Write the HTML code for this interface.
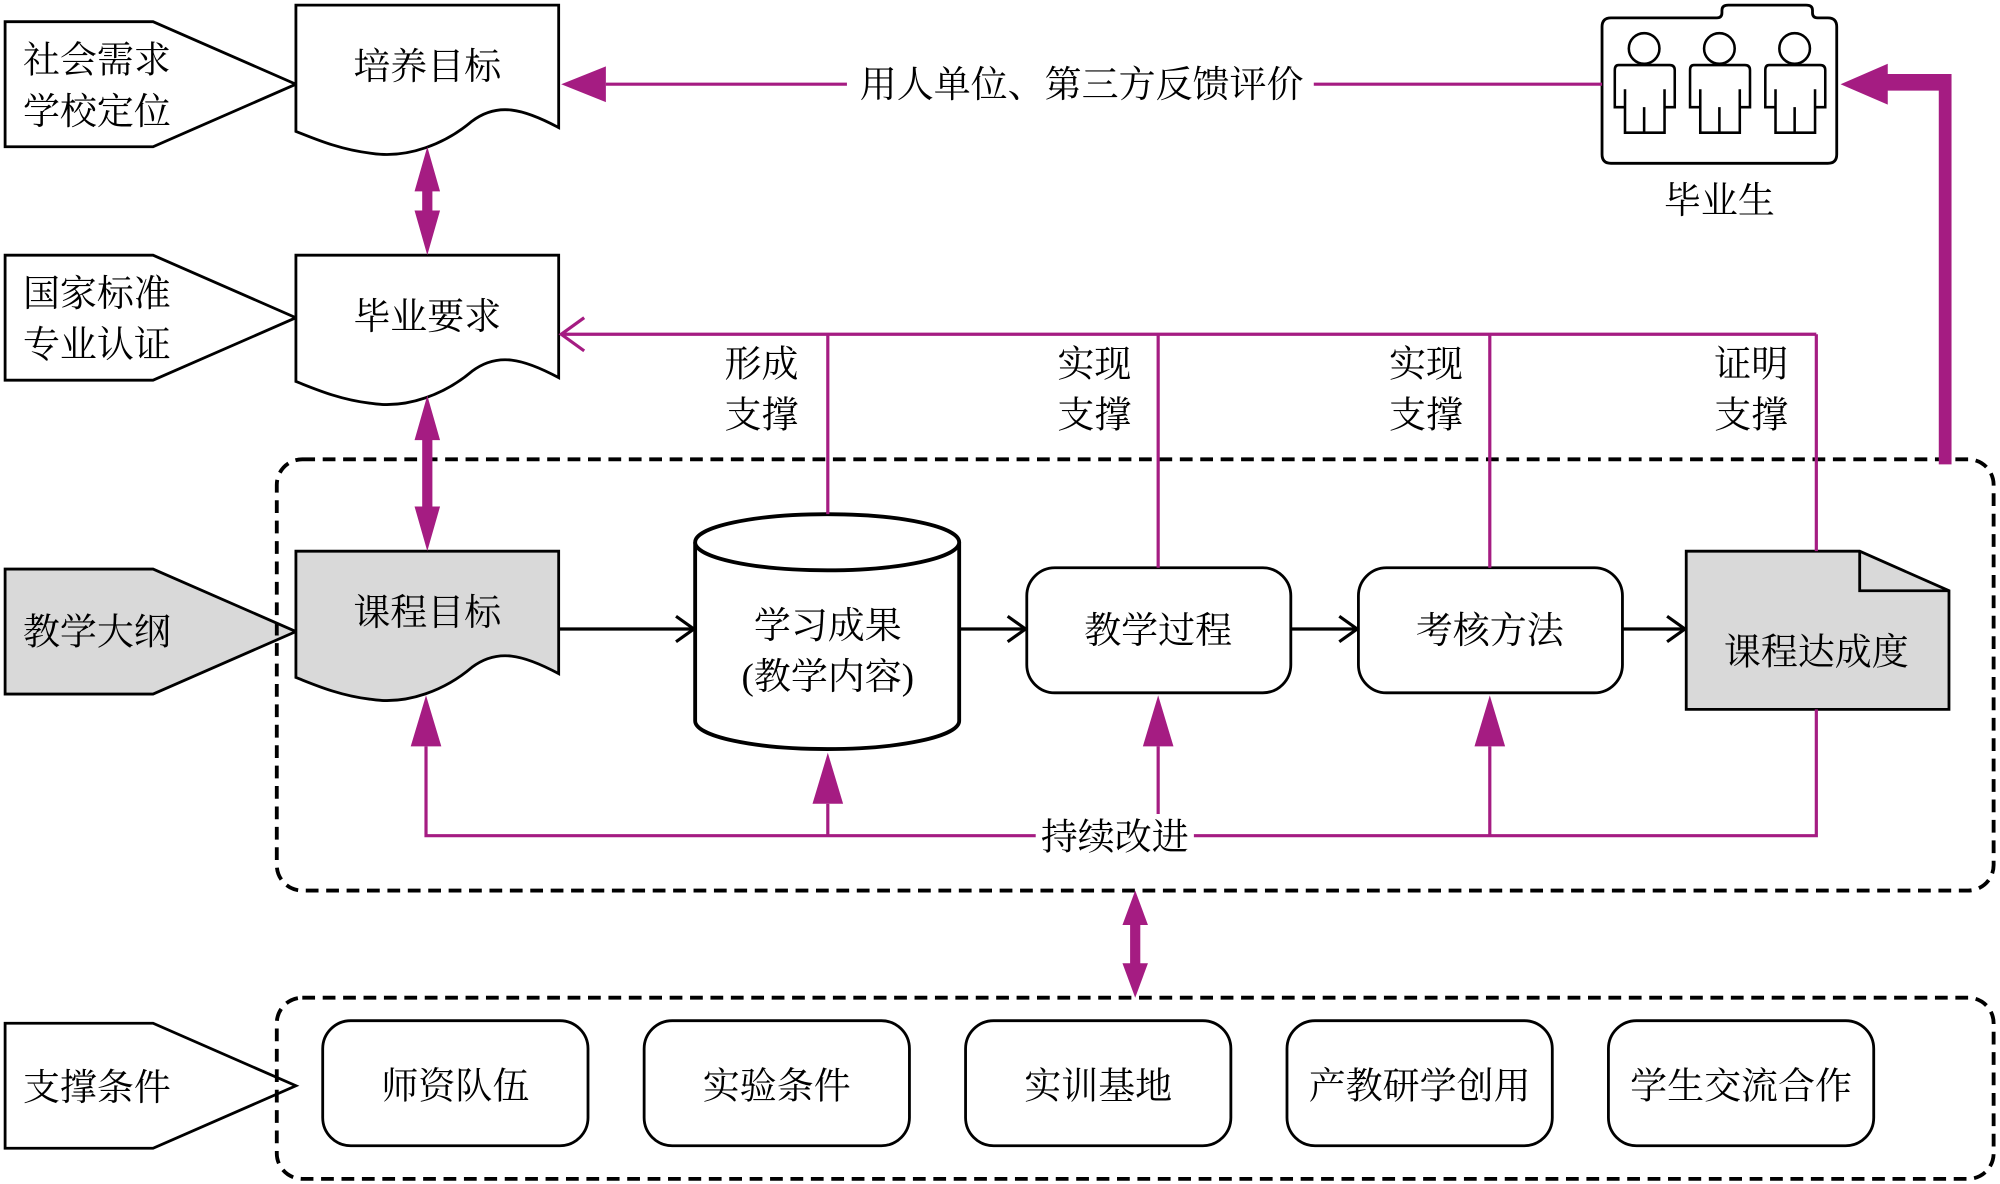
<!DOCTYPE html>
<html><head><meta charset="utf-8"><style>
html,body{margin:0;padding:0;background:#fff;}
svg{display:block;}
text{font-family:"Liberation Serif","Noto Serif CJK SC",serif;font-size:29px;fill:#000;}
</style></head><body>
<svg width="2000" height="1184" viewBox="0 0 1568 928" preserveAspectRatio="none" xmlns="http://www.w3.org/2000/svg">
<defs>
<marker id="open" markerWidth="20" markerHeight="24" refX="16" refY="12" orient="auto" markerUnits="userSpaceOnUse"><path d="M2,2 L16,12 L2,22" fill="none" stroke="#000" stroke-width="2.5"/></marker>
</defs>
<g stroke="#000" stroke-width="2.2" fill="#fff">
<path d="M4,17 H120 L232,66 L120,115 H4 Z"/>
<path d="M4,200 H120 L232,249 L120,298 H4 Z"/>
<path d="M4,446 H120 L232,495 L120,544 H4 Z" fill="#d9d9d9"/>
<path d="M4,802 H120 L232,851 L120,900 H4 Z"/>
<path d="M232,4 H438 V100 C410,85 390,80 370,95 C350,112 320,125 290,120 C265,117 245,108 232,103 Z"/>
<path d="M232,200 H438 V296 C410,281 390,276 370,291 C350,308 320,321 290,316 C265,313 245,304 232,299 Z"/>
<path d="M232,432 H438 V528 C410,513 390,508 370,523 C350,540 320,553 290,548 C265,545 245,536 232,531 Z" fill="#d9d9d9"/>
<path d="M545,425 V565 A103,22 0 0 0 752,565 V425" stroke-width="3"/>
<ellipse cx="648.5" cy="425" rx="103.5" ry="22" stroke-width="3"/>
<rect x="805" y="445" width="207" height="98" rx="22"/>
<rect x="1065" y="445" width="207" height="98" rx="22"/>
<path d="M1322,432 H1458 L1528,463 V556 H1322 Z" fill="#d9d9d9"/>
<path d="M1458,432 V463 H1528" fill="none"/>
<rect x="253" y="800" width="208" height="98" rx="22"/>
<rect x="505" y="800" width="208" height="98" rx="22"/>
<rect x="757" y="800" width="208" height="98" rx="22"/>
<rect x="1009" y="800" width="208" height="98" rx="22"/>
<rect x="1261" y="800" width="208" height="98" rx="22"/>
<rect x="217" y="360" width="1346" height="338" rx="20" fill="none" stroke-width="3" stroke-dasharray="10,6"/>
<rect x="217" y="782" width="1346" height="142" rx="20" fill="none" stroke-width="3" stroke-dasharray="10,6"/>
<path d="M1263,14 H1346 Q1350,14 1350,10 V8 Q1350,4 1355,4 H1416 Q1421,4 1421,8 V10 Q1421,14 1425,14 H1433 Q1440,14 1440,21 V121 Q1440,128 1433,128 H1263 Q1256,128 1256,121 V21 Q1256,14 1263,14 Z"/>
</g>
<g stroke="#000" stroke-width="2" fill="#fff">
<g id="p"><circle cx="1289" cy="38" r="12"/><path d="M1269,51 H1309 Q1313,51 1313,55 V84 H1305 V70 M1305,84 V104 H1274 V84 V70 M1274,84 H1266 V55 Q1266,51 1269,51 M1289,84 V104"/></g>
<use href="#p" x="59"/><use href="#p" x="118"/>
</g>
<g stroke="#000" stroke-width="2.5" fill="none" marker-end="url(#open)">
<line x1="438" y1="493" x2="544" y2="493"/>
<line x1="752" y1="493" x2="804" y2="493"/>
<line x1="1012" y1="493" x2="1064" y2="493"/>
<line x1="1272" y1="493" x2="1321" y2="493"/>
</g>
<g stroke="#a51c82" stroke-width="2.5" fill="none">
<line x1="475" y1="66" x2="1256" y2="66"/>
<line x1="440" y1="262" x2="1424" y2="262"/>
<path d="M458,249 L440,262 L458,275"/>
<line x1="649" y1="262" x2="649" y2="403"/>
<line x1="908" y1="262" x2="908" y2="445"/>
<line x1="1168" y1="262" x2="1168" y2="445"/>
<line x1="1424" y1="262" x2="1424" y2="432"/>
<path d="M334,585 V655 H1424 V556"/>
<line x1="649" y1="630" x2="649" y2="655"/>
<line x1="908" y1="585" x2="908" y2="655"/>
<line x1="1168" y1="585" x2="1168" y2="655"/>
</g>
<g fill="#a51c82">
<path d="M440,66 L475,52 V80 Z"/>
<path d="M334,545 L322,585 H346 Z"/>
<path d="M649,590 L637,630 H661 Z"/>
<path d="M908,545 L896,585 H920 Z"/>
<path d="M1168,545 L1156,585 H1180 Z"/>
<path d="M335,115 L325,150 H331 V165 H325 L335,200 L345,165 H339 V150 H345 Z"/>
<path d="M335,310 L325,345 H331 V397 H325 L335,432 L345,397 H339 V345 H345 Z"/>
<path d="M890,698 L880,725 H886 V755 H880 L890,782 L900,755 H894 V725 H900 Z"/>
<path d="M1520,364 V71 H1480 V82 L1443,66 L1480,50 V58 H1530 V364 Z"/>
</g>
<rect x="664" y="48" width="366" height="36" fill="#fff"/>
<rect x="812" y="638" width="124" height="36" fill="#fff"/>
<text x="18" y="57">社会需求</text>
<text x="18" y="97">学校定位</text>
<text x="18" y="240">国家标准</text>
<text x="18" y="280">专业认证</text>
<text x="18" y="505">教学大纲</text>
<text x="18" y="862">支撑条件</text>
<g text-anchor="middle">
<text x="335" y="62">培养目标</text>
<text x="335" y="258">毕业要求</text>
<text x="335" y="490">课程目标</text>
<text x="649" y="500">学习成果</text>
<text x="649" y="540">(教学内容)</text>
<text x="908" y="504">教学过程</text>
<text x="1168" y="504">考核方法</text>
<text x="1424" y="521">课程达成度</text>
<text x="848" y="76">用人单位、第三方反馈评价</text>
<text x="1348" y="167">毕业生</text>
<text x="874" y="666">持续改进</text>
<text x="597" y="295">形成</text><text x="597" y="335">支撑</text>
<text x="858" y="295">实现</text><text x="858" y="335">支撑</text>
<text x="1118" y="295">实现</text><text x="1118" y="335">支撑</text>
<text x="1373" y="295">证明</text><text x="1373" y="335">支撑</text>
<text x="357" y="861">师资队伍</text>
<text x="609" y="861">实验条件</text>
<text x="861" y="861">实训基地</text>
<text x="1113" y="861">产教研学创用</text>
<text x="1365" y="861">学生交流合作</text>
</g>
</svg>
</body></html>
